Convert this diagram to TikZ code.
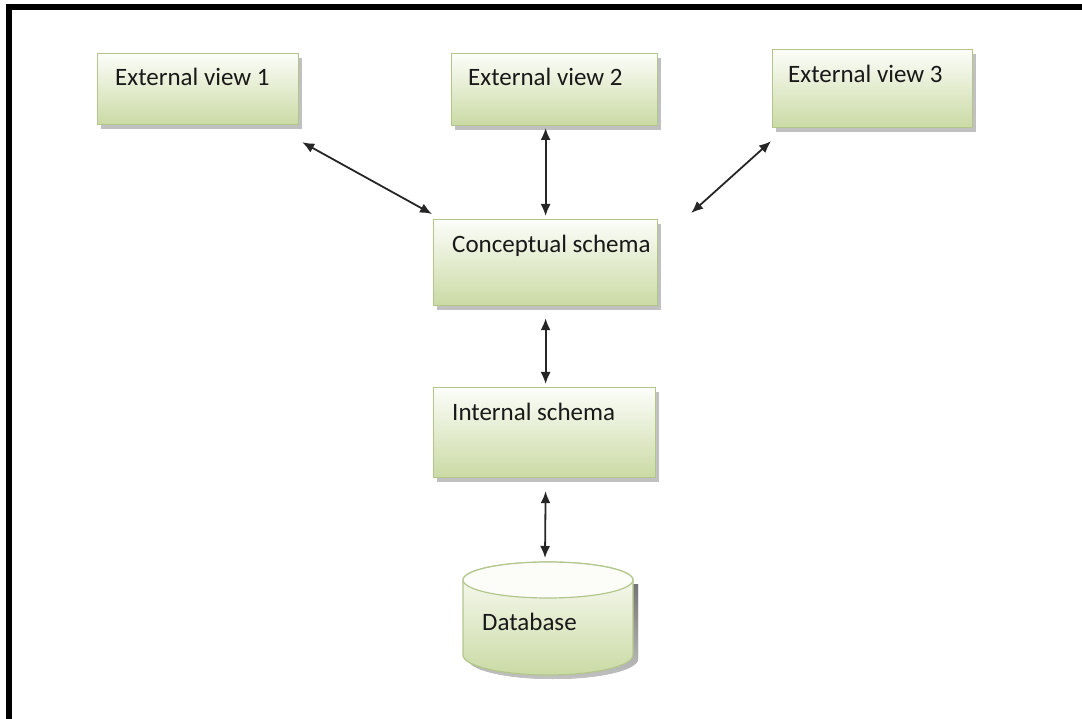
\documentclass[tikz,border=0pt]{standalone}
\usepackage{fontspec}
\setmainfont{Carlito}
\usetikzlibrary{arrows.meta,shadows,calc}

\definecolor{boxline}{RGB}{178,198,140}
\definecolor{boxlow}{RGB}{202,218,164}
\definecolor{boxhigh}{RGB}{252,253,249}
\definecolor{shade}{RGB}{150,150,150}

\tikzset{
  level/.style={draw=boxline, line width=1.2pt, top color=boxhigh, bottom color=boxlow,
    drop shadow={shadow xshift=3pt, shadow yshift=-4pt, fill=shade, opacity=0.6},
    inner sep=0pt, anchor=north west},
  caption/.style={anchor=base west, inner sep=0pt, font=\fontsize{25}{29}\selectfont, text=black!90},
  link/.style={line width=1.8pt, draw=black!85, {Latex[length=12pt,width=10pt]}-{Latex[length=12pt,width=10pt]}},
  frame/.style={line width=6pt, draw=black, line join=miter}
}

\begin{document}
\begin{tikzpicture}[x=1pt, y=-1pt]
\useasboundingbox (0,0) rectangle (1082,719);

% outer frame (top and left edges)
\draw[frame] (9,722) -- (9,7) -- (1085,7);

% external views
\node[level, minimum width=201, minimum height=71] (e1) at (97,53) {};
\node[caption] (t1) at (115,86) {External view 1};
\node[level, minimum width=206, minimum height=72] (e2) at (451,53) {};
\node[caption] (t2) at (468,86) {External view 2};
\node[level, minimum width=200, minimum height=78] (e3) at (772,49) {};
\node[caption] (t3) at (788,83) {External view 3};

% conceptual and internal levels
\node[level, minimum width=224, minimum height=86] (c) at (433,219) {};
\node[caption] (tc) at (452,253) {Conceptual schema};
\node[level, minimum width=222, minimum height=90] (i) at (433,387) {};
\node[caption] (ti) at (452,420) {Internal schema};

% stored database as a cylinder
\coordinate (dbtop) at (548,580);
\coordinate (dbbot) at (548,655);
\fill[shade, opacity=0.6] ($(dbtop)+(-80,4)$) -- ($(dbbot)+(-80,4)$)
  arc[start angle=180, end angle=0, x radius=85, y radius=20] -- ($(dbtop)+(90,4)$) -- cycle;
\path[draw=boxline, line width=1.2pt, top color=boxhigh, bottom color=boxlow]
  ($(dbtop)+(-85,0)$) -- ($(dbbot)+(-85,0)$)
  arc[start angle=180, end angle=0, x radius=85, y radius=20]
  -- ($(dbtop)+(85,0)$)
  arc[start angle=0, end angle=-180, x radius=85, y radius=18] -- cycle;
\draw[boxline, line width=1.2pt, fill=boxhigh] (dbtop) ellipse[x radius=85, y radius=18];
\node[caption] (db) at (482,630) {Database};

% mappings between the levels
\draw[link] ($(e1.south east)+(3,17)$) -- ($(c.north west)+(-1,-5)$);
\draw[link] ($(c.north)+(0,-91)$) -- ($(c.north)+(0,-3)$);
\draw[link] ($(e3.south west)+(-1,13)$) -- ($(c.north east)+(33,-6)$);
\draw[link] ($(c.south)+(0,12)$) -- ($(i.north)+(1,-3)$);
\draw[link] ($(i.south)+(1,13)$) -- ($(dbtop)+(-3,-22)$);
\end{tikzpicture}
\end{document}
